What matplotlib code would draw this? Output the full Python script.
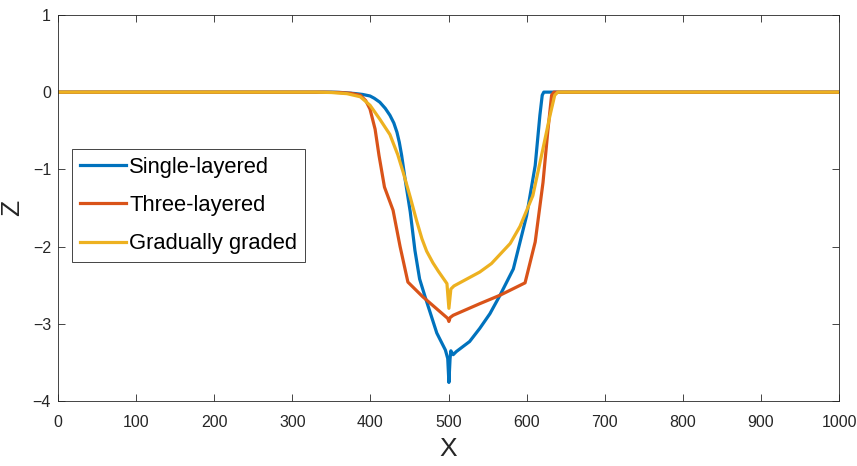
import numpy as np
import matplotlib
matplotlib.use('agg')
import matplotlib.pyplot as plt

plt.rcParams['font.family'] = ['Liberation Sans', 'DejaVu Sans']

# Single-layered
x_single = [0, 350, 360, 370, 380, 390, 399.5, 405, 412, 419, 425, 430, 434, 437, 440, 444,
            451, 457, 463, 470, 485, 496, 499, 500.5, 502, 503, 506, 510, 527, 540, 553, 566,
            583, 600, 611, 617, 620, 622, 1000]
z_single = [0, 0, -0.003, -0.01, -0.018, -0.03, -0.05, -0.08, -0.13, -0.21, -0.30, -0.40,
            -0.52, -0.65, -0.82, -1.10, -1.55, -2.05, -2.42, -2.65, -3.12, -3.34, -3.45, -3.76,
            -3.45, -3.35, -3.40, -3.36, -3.23, -3.06, -2.87, -2.63, -2.29, -1.60, -0.95, -0.30,
            -0.04, 0, 0]

# Three-layered
x_three = [0, 340, 360, 375, 387, 394, 399.5, 406, 411, 418, 429, 438, 448, 467, 499, 500.5,
           502, 506, 540, 566, 598, 611, 621, 627, 632, 635, 1000]
z_three = [0, 0, -0.005, -0.015, -0.04, -0.11, -0.22, -0.48, -0.82, -1.23, -1.53, -2.00, -2.46,
           -2.65, -2.93, -2.97, -2.92, -2.89, -2.74, -2.63, -2.47, -1.94, -1.17, -0.52, -0.04,
           0, 0]

# Gradually graded
x_grad = [0, 330, 350, 370, 387, 399.5, 412, 425, 435, 442, 451, 459, 466, 472, 480, 487, 498,
          500.5, 503, 507, 540, 555, 579, 591.5, 608, 621, 630, 636, 640, 1000]
z_grad = [0, 0, -0.005, -0.02, -0.06, -0.17, -0.35, -0.55, -0.81, -1.04, -1.36, -1.66, -1.90,
          -2.06, -2.21, -2.32, -2.48, -2.80, -2.55, -2.51, -2.33, -2.22, -1.96, -1.74, -1.34,
          -0.73, -0.30, -0.04, 0, 0]

labels = ['Single-layered', 'Three-layered', 'Gradually graded']
colors = ['#0072BD', '#D95319', '#EDB120']

fig = plt.figure(figsize=(8.57, 4.66), dpi=100)
ax = fig.add_axes([0.0677, 0.1395, 0.9113, 0.8285])

for xs, zs, lab, c in zip([x_single, x_three, x_grad], [z_single, z_three, z_grad], labels, colors):
    ax.plot(xs, zs, color=c, lw=2.3, label=lab)

ax.set_xlim(0, 1000)
ax.set_ylim(-4, 1)
ax.set_xticks(np.arange(0, 1001, 100))
ax.set_yticks(np.arange(-4, 2, 1))
ax.tick_params(direction='in', top=True, right=True, labelsize=11.5, length=5,
               width=0.6, color='#262626', labelcolor='#262626')
ax.tick_params(axis='x', pad=10)
ax.tick_params(axis='y', pad=5)
for s in ax.spines.values():
    s.set_linewidth(0.6)
    s.set_color('#262626')
ax.set_xlabel('X', fontsize=19, color='#262626', labelpad=5)
ax.set_ylabel('Z', fontsize=19, color='#262626', labelpad=6)

leg = ax.legend(loc='upper left', bbox_to_anchor=(0.018, 0.652), fontsize=15.8,
                handlelength=2.1, handletextpad=0.15, borderpad=0.35, labelspacing=0.78,
                fancybox=False, framealpha=1, edgecolor='#262626', borderaxespad=0)
leg.get_frame().set_linewidth(0.6)

plt.savefig('out.png', dpi=100)
plt.close()
